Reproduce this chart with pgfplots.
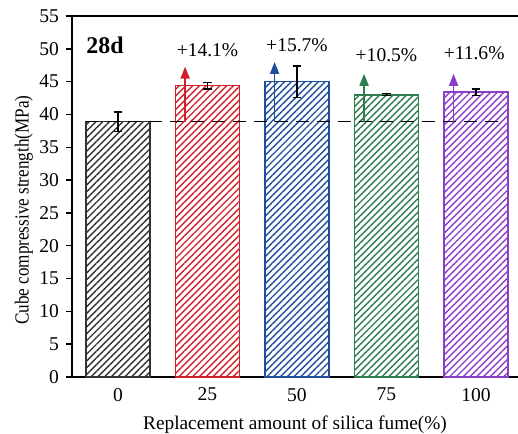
\documentclass[border=0pt]{standalone}
\usepackage{pgfplots}
\pgfplotsset{compat=1.18}
\usepackage{fontspec}
\setmainfont{Liberation Serif}
\newfontfamily\ylabfont{Liberation Serif}[FakeStretch=0.86]
\usetikzlibrary{patterns.meta,arrows.meta}
\definecolor{cK}{HTML}{333333}
\definecolor{cR}{HTML}{D0202A}
\definecolor{cB}{HTML}{1F4E9E}
\definecolor{cG}{HTML}{2E7D4E}
\definecolor{cP}{HTML}{8B3FC8}
\begin{document}
\begin{tikzpicture}
\begin{axis}[
  at={(0,0)}, anchor=south west,
  scale only axis, width=223bp, height=180.5bp,
  xmin=-0.514, xmax=4.47, ymin=0, ymax=55,
  axis x line=box, axis y line=left,
  axis line style={line width=0.7pt, -},
  xtick={0,1,2,3,4}, xticklabels={0,25,50,75,100},
  x tick style={draw=none},
  ytick={0,5,...,55},
  y tick style={line width=0.7pt, black},
  tick align=outside, major tick length=3pt,
  ytick pos=left,
  font=\fontsize{9.8}{11}\selectfont,
  /pgf/number format/assume math mode=true,
  xticklabel style={yshift=1bp},
  xlabel={\fontsize{9.7}{12}\selectfont Replacement amount of silica fume(\%)},
  ylabel={\ylabfont\fontsize{10}{12}\selectfont Cube compressive strength(MPa)},
  xlabel style={at={(axis description cs:0.5,-0.133)}, anchor=center},
  ylabel style={at={(axis description cs:-0.108,0.462)}, anchor=center, rotate=0},
  clip=false,
]
\pgfplotsset{bs/.style={ybar, bar width=0.714, bar shift=0pt, line width=0.75pt, draw=#1,
  pattern={Lines[angle=45, distance=2.4pt, line width=0.7pt]}, pattern color=#1,
  error bars/.cd, y dir=both, y explicit,
  error bar style={line width=0.7pt, black},
  error mark options={rotate=90, mark size=2.2pt, line width=0.7pt, black}}}
\addplot[bs=cK] coordinates {(0,38.9) +- (0,1.5)};
\addplot[bs=cR] coordinates {(1,44.4) +- (0,0.5)};
\addplot[bs=cB] coordinates {(2,45.0) +- (0,2.4)};
\addplot[bs=cG] coordinates {(3,43.0) +- (0,0.15)};
\addplot[bs=cP] coordinates {(4,43.4) +- (0,0.5)};
\addplot[black, line width=0.8pt, dash pattern=on 6.5bp off 4bp] coordinates {(-0.36,38.9) (4.32,38.9)};
\addplot[cR, line width=0.9pt, -{Triangle[length=6bp,width=4.5bp]}] coordinates {(0.75,38.9) (0.75,47.3)};
\addplot[cB, line width=0.9pt, -{Triangle[length=6bp,width=4.5bp]}] coordinates {(1.75,38.9) (1.75,48.0)};
\addplot[cG, line width=0.9pt, -{Triangle[length=6bp,width=4.5bp]}] coordinates {(2.75,38.9) (2.75,46.2)};
\addplot[cP, line width=0.9pt, -{Triangle[length=6bp,width=4.5bp]}] coordinates {(3.75,38.9) (3.75,46.2)};
\node[font=\fontsize{12}{14}\selectfont\bfseries] at (axis cs:-0.145,50.5) {28d};
\node at (axis cs:1,49.8) {+14.1\%};
\node at (axis cs:2,50.6) {+15.7\%};
\node at (axis cs:3,49.1) {+10.5\%};
\node at (axis cs:3.98,49.4) {+11.6\%};
\end{axis}
\pgfresetboundingbox
\path[use as bounding box] (-36bp,-28.5bp) rectangle (223bp,188.5bp);
\end{tikzpicture}
\end{document}
